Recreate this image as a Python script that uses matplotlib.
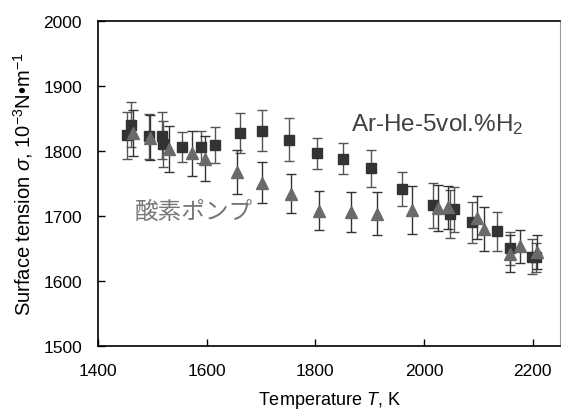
import matplotlib
matplotlib.use("Agg")
import matplotlib.pyplot as plt

plt.rcParams["font.family"] = ["Liberation Sans", "DejaVu Sans"]
plt.rcParams["mathtext.fontset"] = "custom"
plt.rcParams["mathtext.rm"] = "Liberation Sans"
plt.rcParams["mathtext.it"] = "Liberation Sans:italic"

# Ar-He-5vol.%H2 (squares)
sq_T = [1454, 1460, 1494, 1517, 1520, 1554, 1589, 1615, 1661, 1701, 1752, 1803,
        1850, 1902, 1960, 2016, 2048, 2055, 2089, 2134, 2159, 2199, 2206]
sq_s = [1824, 1840, 1822, 1823, 1810, 1805, 1806, 1809, 1827, 1831, 1817, 1796,
        1788, 1773, 1741, 1716, 1703, 1710, 1690, 1676, 1650, 1637, 1636]
sq_e = [36, 35, 35, 36, 35, 23, 25, 28, 31, 32, 33, 24,
        24, 28, 26, 35, 37, 35, 31, 30, 25, 27, 22]

# oxygen pump (triangles)
tr_T = [1465, 1495, 1530, 1573, 1597, 1656, 1702, 1756, 1806, 1865, 1913, 1978,
        2026, 2044, 2097, 2111, 2159, 2177, 2207]
tr_s = [1827, 1820, 1803, 1796, 1788, 1767, 1751, 1734, 1708, 1706, 1703, 1709,
        1712, 1713, 1697, 1680, 1642, 1653, 1644]
tr_e = [35, 35, 35, 35, 35, 34, 31, 30, 30, 31, 33, 37,
        35, 33, 33, 34, 29, 25, 26]

fig = plt.figure(figsize=(5.61, 4.14), dpi=100)
ax = fig.add_axes([0.1747, 0.1618, 0.8233, 0.7862])

l1, c1, b1 = ax.errorbar(sq_T, sq_s, yerr=sq_e, fmt="s", color="#333333", ms=7.5,
                         ecolor="#555555", elinewidth=1.0, capsize=3.5, capthick=1.0)
for c in c1:
    c.set_color("#111111")
l2, c2, b2 = ax.errorbar(tr_T, tr_s, yerr=tr_e, fmt="^", color="#6a6a6a", ms=8,
                         ecolor="#333333", elinewidth=1.0, capsize=3.5, capthick=1.0)
for c in c2:
    c.set_color("#111111")

ax.set_xlim(1400, 2250)
ax.set_ylim(1500, 2000)
ax.set_xticks([1400, 1600, 1800, 2000, 2200])
ax.set_yticks([1500, 1600, 1700, 1800, 1900, 2000])
ax.tick_params(direction="in", labelsize=12.5, length=5, width=1)
ax.tick_params(axis="x", pad=12)
ax.tick_params(axis="y", pad=11.5)

for s in ["left", "bottom", "top"]:
    ax.spines[s].set_color("black")
    ax.spines[s].set_linewidth(1.2)
ax.spines["right"].set_color("#999999")

ax.set_xlabel("Temperature $\\it{T}$, K", fontsize=13, labelpad=8)
ax.set_ylabel("Surface tension $\\it{\\sigma}$, 10$^{-3}$N•m$^{-1}$", fontsize=14.5, labelpad=6)

ax.text(1866, 1832, "Ar-He-5vol.%H$_2$", fontsize=17.5, color="#404040")
ax.text(1468, 1707, "酸素ポンプ", fontsize=17, color="#777777", va="center",
        family=["Noto Sans CJK JP", "DejaVu Sans"])

fig.savefig("out.png", dpi=100)
